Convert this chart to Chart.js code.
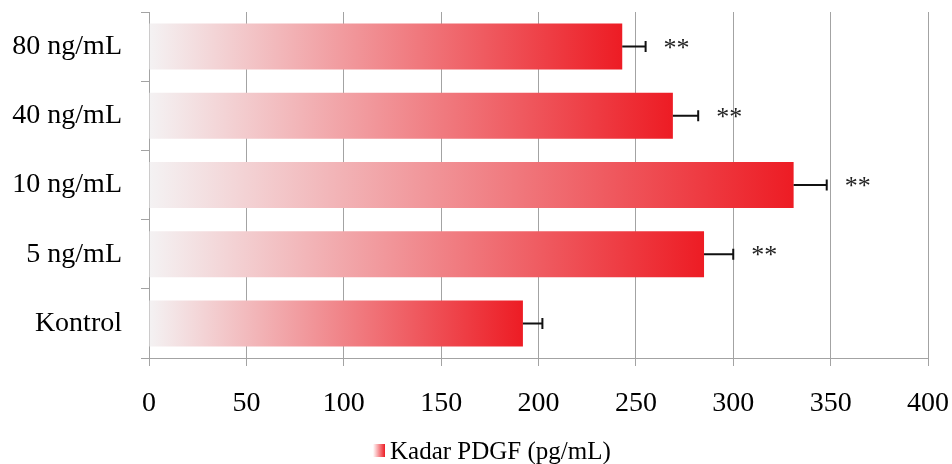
<!DOCTYPE html>
<html>
<head>
<meta charset="utf-8">
<script src="https://cdn.jsdelivr.net/npm/chart.js@4"></script>
<style>
  html, body { margin: 0; padding: 0; background: #fff; }
  #wrap { width: 952px; height: 464px; }
</style>
</head>
<body>
<div id="wrap"><canvas id="c" width="952" height="464"></canvas></div>
<script>
// ---- data ----
const categories = ['80 ng/mL', '40 ng/mL', '10 ng/mL', '5 ng/mL', 'Kontrol'];
const values = [243, 269, 331, 285, 192];
const errors = [12, 13, 17, 15, 10];
const significance = ['**', '**', '**', '**', ''];
const seriesName = 'Kadar PDGF (pg/mL)';
const xTicks = [0, 50, 100, 150, 200, 250, 300, 350, 400];

const FONT = '"Liberation Serif", "Times New Roman", Times, serif';
const GRID = '#a3a3a3';
const LIGHT = '#f4f2f3';
const RED = '#ed1c24';

function barGradient(context) {
  const chart = context.chart;
  const area = chart.chartArea;
  if (!area || !chart.scales.x) return RED;
  const xs = chart.scales.x;
  const v = context.raw;
  const x0 = xs.getPixelForValue(0);
  const x1 = xs.getPixelForValue(v);
  const g = chart.ctx.createLinearGradient(x0, 0, x1, 0);
  g.addColorStop(0, LIGHT);
  g.addColorStop(1, RED);
  return g;
}

function noPad(scale) {
  scale.paddingTop = 0; scale.paddingBottom = 0;
  scale.paddingLeft = 0; scale.paddingRight = 0;
}

const extras = {
  id: 'extras',
  afterDatasetsDraw(chart) {
    const ctx = chart.ctx;
    const xs = chart.scales.x;
    const meta = chart.getDatasetMeta(0);
    ctx.save();
    meta.data.forEach((bar, i) => {
      const y = bar.y;
      const xb = xs.getPixelForValue(values[i]);
      const xe = xs.getPixelForValue(values[i] + errors[i]);
      ctx.strokeStyle = '#111';
      ctx.lineWidth = 2;
      ctx.beginPath();
      ctx.moveTo(xb, y);
      ctx.lineTo(xe, y);
      ctx.moveTo(xe, y - 5.5);
      ctx.lineTo(xe, y + 5.5);
      ctx.stroke();
      if (significance[i]) {
        ctx.fillStyle = '#222';
        ctx.font = '26px ' + FONT;
        ctx.textAlign = 'left';
        ctx.textBaseline = 'alphabetic';
        ctx.fillText(significance[i], xe + 18, y + 9);
      }
    });
    ctx.restore();
  },
  afterDraw(chart) {
    const ctx = chart.ctx;
    ctx.save();
    const bx = 373, by = 444, bw = 12, bh = 13;
    const g = ctx.createLinearGradient(bx, 0, bx + bw, 0);
    g.addColorStop(0, '#ffffff');
    g.addColorStop(1, RED);
    ctx.fillStyle = g;
    ctx.fillRect(bx, by, bw, bh);
    ctx.fillStyle = '#000';
    ctx.font = '25px ' + FONT;
    ctx.textAlign = 'left';
    ctx.textBaseline = 'alphabetic';
    ctx.fillText(seriesName, 390, 459);
    ctx.restore();
  }
};

new Chart(document.getElementById('c'), {
  type: 'bar',
  data: {
    labels: categories,
    datasets: [{
      label: seriesName,
      data: values,
      backgroundColor: barGradient,
      borderWidth: 0,
      barPercentage: 0.665,
      categoryPercentage: 1.0
    }]
  },
  options: {
    indexAxis: 'y',
    responsive: false,
    animation: false,
    layout: { padding: { top: 12, right: 24, left: 0, bottom: 0 } },
    plugins: {
      legend: { display: false },
      tooltip: { enabled: false }
    },
    scales: {
      x: {
        type: 'linear',
        min: xTicks[0],
        max: xTicks[xTicks.length - 1],
        afterBuildTicks(scale) { scale.ticks = xTicks.map(v => ({ value: v })); },
        afterFit(scale) { scale.height = 106; noPad(scale); },
        ticks: {
          color: '#000',
          font: { family: FONT, size: 28 },
          padding: 21,
          maxRotation: 0
        },
        grid: { color: GRID, lineWidth: 1, tickLength: 8, drawOnChartArea: true },
        border: { color: GRID, width: 1 }
      },
      y: {
        afterFit(scale) { scale.width = 149; noPad(scale); },
        ticks: {
          color: '#000',
          font: { family: FONT, size: 28 },
          padding: 19
        },
        grid: { color: GRID, lineWidth: 1, tickLength: 8, drawOnChartArea: false, offset: true },
        border: { color: GRID, width: 1 }
      }
    }
  },
  plugins: [extras]
});
</script>
</body>
</html>
